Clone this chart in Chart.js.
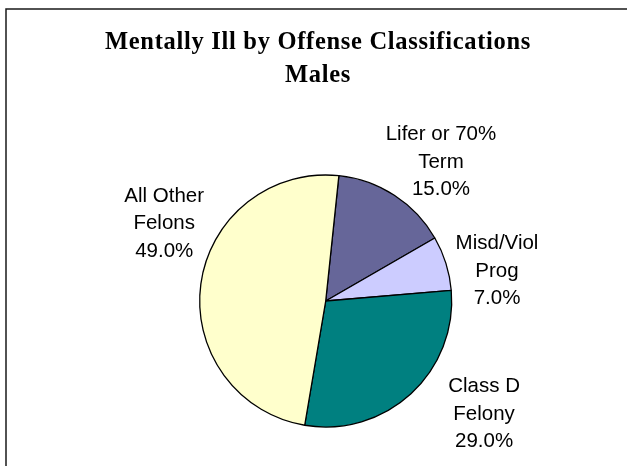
<!DOCTYPE html>
<html><head><meta charset="utf-8">
<script src="https://cdn.jsdelivr.net/npm/chart.js@4.4.1/dist/chart.umd.min.js"></script>
<style>html,body{margin:0;padding:0;background:#fff;}canvas{display:block;}</style>
</head><body>
<canvas id="c" width="627" height="466"></canvas>
<script>
const titleLines = ['Mentally Ill by Offense Classifications', 'Males'];
const categories = [['Lifer or 70%', 'Term'], ['Misd/Viol', 'Prog'], ['Class D', 'Felony'], ['All Other', 'Felons']];
const shares = [15.0, 7.0, 29.0, 49.0];
const sliceColors = ['#666699', '#CCCCFF', '#008080', '#FFFFCC'];

// label placement relative to each slice's mid-angle: angular shift (deg) and distance (x radius)
const labelPlacement = [
  { shift: 7.9, dist: 1.397 },
  { shift: 9.4, dist: 1.373 },
  { shift: -10.5, dist: 1.572 },
  { shift: 16.1, dist: 1.402 }
];

const framePlugin = {
  id: 'frame',
  beforeDraw(chart) {
    const ctx = chart.ctx;
    ctx.save();
    ctx.strokeStyle = '#1a1a1a';
    ctx.lineWidth = 1.5;
    ctx.beginPath();
    ctx.moveTo(6, chart.height);
    ctx.lineTo(6, 9);
    ctx.lineTo(chart.width, 9);
    ctx.stroke();
    ctx.fillStyle = '#000';
    ctx.font = 'bold 24.5px "Liberation Serif", "Times New Roman", serif';
    if ('letterSpacing' in ctx) ctx.letterSpacing = '0.7px';
    ctx.textAlign = 'center';
    ctx.textBaseline = 'alphabetic';
    ctx.fillText(titleLines[0], 318, 49);
    ctx.fillText(titleLines[1], 318, 82);
    ctx.restore();
  }
};

const labelPlugin = {
  id: 'sliceLabels',
  afterDatasetsDraw(chart) {
    const ctx = chart.ctx;
    const meta = chart.getDatasetMeta(0);
    ctx.save();
    ctx.fillStyle = '#000';
    ctx.font = '20.5px "Liberation Sans", Arial, sans-serif';
    ctx.textAlign = 'center';
    ctx.textBaseline = 'alphabetic';
    const lh = 27.5;
    meta.data.forEach((el, i) => {
      const p = el.getProps(['x', 'y', 'startAngle', 'endAngle', 'outerRadius'], true);
      const mid = (p.startAngle + p.endAngle) / 2 + labelPlacement[i].shift * Math.PI / 180;
      const d = labelPlacement[i].dist * p.outerRadius;
      const cx = p.x + Math.cos(mid) * d;
      const cy = p.y + Math.sin(mid) * d;
      const lines = categories[i].concat([shares[i].toFixed(1) + '%']);
      lines.forEach((t, j) => ctx.fillText(t, cx, cy + (j - 1) * lh));
    });
    ctx.restore();
  }
};

new Chart(document.getElementById('c'), {
  type: 'pie',
  data: {
    labels: categories.map(c => c.join(' ')),
    datasets: [{
      data: shares,
      backgroundColor: sliceColors,
      borderColor: '#000',
      borderWidth: 1.3,
      hoverOffset: 0,
      offset: 0
    }]
  },
  options: {
    responsive: false,
    animation: false,
    events: [],
    rotation: 6,
    radius: 126,
    layout: { padding: { top: 175, bottom: 39, left: 150, right: 125.6 } },
    plugins: {
      legend: { display: false },
      title: { display: false },
      tooltip: { enabled: false }
    }
  },
  plugins: [framePlugin, labelPlugin]
});
</script>
</body></html>
